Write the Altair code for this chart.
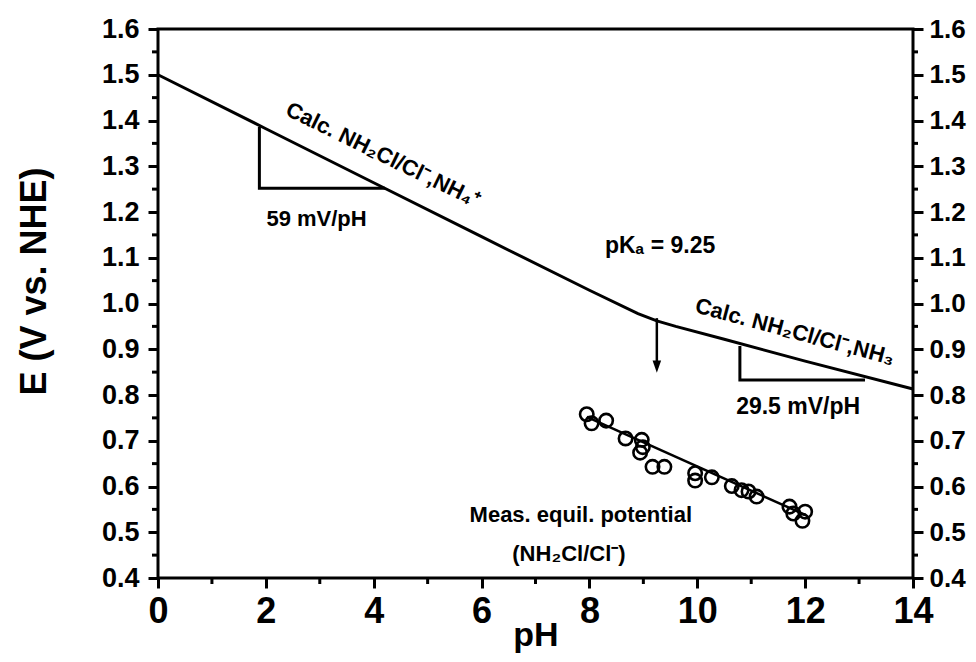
import altair as alt
import pandas as pd

# ---- data ----
calc_ph = [0, 2, 4, 6, 8, 8.9, 9.25, 9.6, 10.5, 12, 14]
calc_E = [1.500, 1.382, 1.264, 1.146, 1.029, 0.978, 0.962, 0.950, 0.922, 0.874, 0.813]

meas_ph = [7.95, 8.04, 8.31, 8.67, 8.97, 8.99, 8.94, 9.17, 9.39, 9.96, 9.96,
           10.27, 10.64, 10.82, 10.95, 11.10, 11.71, 11.78, 12.00, 11.95]
meas_E = [0.758, 0.738, 0.744, 0.705, 0.702, 0.686, 0.674, 0.643, 0.643, 0.629, 0.613,
          0.620, 0.601, 0.592, 0.589, 0.578, 0.556, 0.541, 0.545, 0.525]

fit_ph = [7.95, 12.0]
fit_E = [0.752, 0.538]

tri1_ph = [1.88, 1.88, 4.21]
tri1_E = [1.386, 1.252, 1.252]
tri2_ph = [10.79, 10.79, 13.11]
tri2_E = [0.907, 0.833, 0.833]

arrow_ph = [9.25]
arrow_top = [0.968]
arrow_bottom = [0.872]
arrow_head = [0.862]

x_major = [0, 2, 4, 6, 8, 10, 12, 14]
x_minor = [1, 3, 5, 7, 9, 11, 13]
y_major = [0.4, 0.5, 0.6, 0.7, 0.8, 0.9, 1.0, 1.1, 1.2, 1.3, 1.4, 1.5, 1.6]
y_minor = [0.45, 0.55, 0.65, 0.75, 0.85, 0.95, 1.05, 1.15, 1.25, 1.35, 1.45, 1.55]

ann_text = ["Calc. NH\u2082Cl/Cl\u207b,NH\u2084\u207a", "59 mV/pH", "pK\u2090 = 9.25",
            "Calc. NH\u2082Cl/Cl\u207b,NH\u2083", "29.5 mV/pH",
            "Meas. equil. potential", "(NH\u2082Cl/Cl\u207b)"]
ann_ph = [4.17, 2.94, 9.31, 11.81, 11.87, 7.84, 7.62]
ann_E = [1.325, 1.185, 1.125, 0.938, 0.774, 0.538, 0.452]
ann_angle = [26, 0, 0, 15, 0, 0, 0]
ann_size = [22, 22, 23, 22, 23, 22, 22]

# ---- layout ----
W, H = 755, 549
FONT = "Liberation Sans"
xs = alt.Scale(domain=[0, 14], nice=False, zero=False)
ys = alt.Scale(domain=[0.4, 1.6], nice=False, zero=False)

x_axis = alt.Axis(values=x_major, title="pH", labelFont=FONT, labelFontSize=36,
                  labelFontWeight="bold", labelColor="black", labelPadding=6,
                  labelFlush=False, tickSize=10, tickWidth=3, tickColor="black",
                  domain=False, grid=False, titleFont=FONT, titleFontSize=34,
                  titleFontWeight="bold", titleColor="black", titleY=67,
                  titleBaseline="alphabetic")

y_left = alt.Axis(values=y_major, format=".1f", orient="left", title="E (V vs. NHE)",
                  labelFont=FONT, labelFontSize=27, labelFontWeight="bold",
                  labelColor="black", labelPadding=9, labelFlush=False,
                  tickSize=10, tickWidth=3, tickColor="black", domain=False, grid=False,
                  titleFont=FONT, titleFontSize=36, titleFontWeight="bold",
                  titleColor="black", titleX=-124, titleY=252, titleAngle=270,
                  titleAlign="center", titleBaseline="middle")

y_right = alt.Axis(values=y_major, format=".1f", orient="right", title="",
                   labelFont=FONT, labelFontSize=26, labelFontWeight="bold",
                   labelColor="black", labelPadding=6, labelFlush=False,
                   tickSize=10, tickWidth=3, tickColor="black", domain=False, grid=False)


def X(field="pH"):
    return alt.X(f"{field}:Q", scale=xs, axis=x_axis)


def Y(field="E", axis=None):
    return alt.Y(f"{field}:Q", scale=ys, axis=axis)


df_calc = pd.DataFrame({"pH": calc_ph, "E": calc_E})
df_meas = pd.DataFrame({"pH": meas_ph, "E": meas_E})
df_fit = pd.DataFrame({"pH": fit_ph, "E": fit_E})
df_tri1 = pd.DataFrame({"pH": tri1_ph, "E": tri1_E, "i": [0, 1, 2]})
df_tri2 = pd.DataFrame({"pH": tri2_ph, "E": tri2_E, "i": [0, 1, 2]})
df_arrow = pd.DataFrame({"pH": arrow_ph, "E": arrow_top, "E2": arrow_bottom, "Eh": arrow_head})
df_xminor = pd.DataFrame({"pH": x_minor})
df_yminor = pd.DataFrame({"E": y_minor})

calc = alt.Chart(df_calc).mark_line(color="black", strokeWidth=3).encode(
    x=X(), y=Y(axis=y_left))
fit = alt.Chart(df_fit).mark_line(color="black", strokeWidth=2.5).encode(x=X(), y=Y())
meas = alt.Chart(df_meas).mark_point(shape="circle", filled=False, color="black",
                                     strokeWidth=2.6, size=180, opacity=1).encode(x=X(), y=Y())
tri1 = alt.Chart(df_tri1).mark_line(color="black", strokeWidth=3).encode(
    x=X(), y=Y(), order="i:Q")
tri2 = alt.Chart(df_tri2).mark_line(color="black", strokeWidth=3).encode(
    x=X(), y=Y(), order="i:Q")
arrow = alt.Chart(df_arrow).mark_rule(color="black", strokeWidth=2.5).encode(
    x=X(), y=Y(), y2="E2:Q")
head = alt.Chart(df_arrow).mark_point(shape="M-0.7,-1L0.7,-1L0,1Z", filled=True,
                                      color="black", size=150, opacity=1).encode(
    x=X(), y=Y("Eh"))

xminor = alt.Chart(df_xminor).mark_rule(color="black", strokeWidth=3).encode(
    x=X(), y=alt.value(H), y2=alt.value(H + 6))
yminor_l = alt.Chart(df_yminor).mark_rule(color="black", strokeWidth=3).encode(
    y=Y(), x=alt.value(0), x2=alt.value(-6))
yminor_r = alt.Chart(df_yminor).mark_rule(color="black", strokeWidth=3).encode(
    y=Y(axis=y_right), x=alt.value(W), x2=alt.value(W + 5))

texts = []
for t, p, e, a, s in zip(ann_text, ann_ph, ann_E, ann_angle, ann_size):
    d = pd.DataFrame({"pH": [p], "E": [e], "t": [t]})
    texts.append(alt.Chart(d).mark_text(font=FONT, fontSize=s, fontWeight="bold",
                                        color="black", angle=a, align="center",
                                        baseline="middle").encode(
        x=X(), y=Y(), text="t:N"))

chart = alt.layer(calc, tri1, tri2, arrow, head, fit, meas, xminor, yminor_l, yminor_r,
                  *texts).resolve_axis(y="independent").properties(
    width=W, height=H,
    autosize=alt.AutoSizeParams(type="none"),
    padding={"left": 150, "top": 21, "right": 55, "bottom": 76},
    background="white",
).configure_view(stroke="black", strokeWidth=3)

chart.save("out.html", embed_options={"renderer": "svg", "actions": False})
